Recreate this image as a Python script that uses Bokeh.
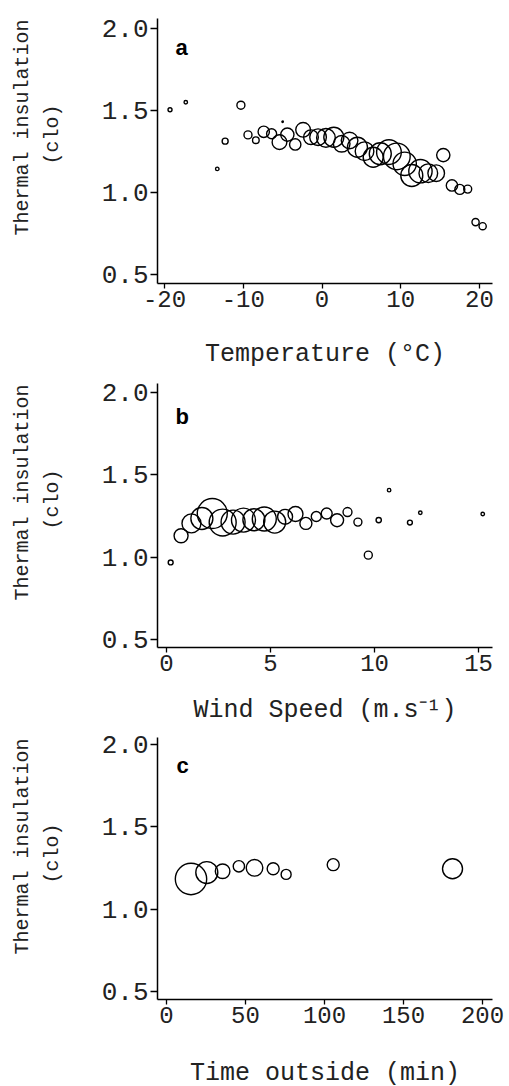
import math
from bokeh.plotting import figure
from bokeh.layouts import column, row
from bokeh.models import Range1d, Label, FixedTicker, NumeralTickFormatter
from bokeh.core.properties import value
from bokeh.embed import file_html
from bokeh.resources import INLINE

# ---------------- data ----------------
# panel a: temperature (deg C) vs clo; n = relative number of observations (bubble area)
temp_x = [-19.3, -17.3, -13.3, -12.3, -10.3, -9.4, -8.4, -7.4, -6.4, -5.4, -4.4, -5.0, -3.4,
          -2.4, -1.4, -0.5, 0.5, 1.5, 2.5, 3.5, 4.5, 5.4, 6.5, 7.4, 8.5, 9.5, 10.5, 11.4,
          12.5, 13.5, 14.5, 15.4, 16.5, 17.5, 18.5, 19.5, 20.4]
temp_clo = [1.503, 1.549, 1.143, 1.312, 1.531, 1.350, 1.318, 1.369, 1.357, 1.306, 1.352, 1.43,
            1.292, 1.381, 1.336, 1.336, 1.332, 1.336, 1.296, 1.316, 1.275, 1.251, 1.214, 1.235,
            1.245, 1.219, 1.174, 1.103, 1.129, 1.117, 1.117, 1.227, 1.042, 1.018, 1.020, 0.819,
            0.794]
temp_n = [4, 3, 3, 9, 16, 16, 11, 32, 25, 54, 44, 0.5, 32, 54, 54, 69, 87, 100, 69, 69, 100,
          87, 100, 121, 152, 178, 136, 121, 136, 87, 69, 44, 32, 25, 16, 13, 13]

# panel b: wind speed (m/s) vs clo
wind_x = [0.2, 0.7, 1.2, 1.7, 2.2, 2.7, 3.2, 3.7, 4.2, 4.7, 5.2, 5.7, 6.2, 6.7, 7.2, 7.7,
          8.2, 8.7, 9.2, 9.7, 10.2, 10.7, 11.7, 12.2, 15.2]
wind_clo = [0.968, 1.13, 1.205, 1.235, 1.265, 1.21, 1.213, 1.225, 1.227, 1.232, 1.213, 1.245,
            1.262, 1.205, 1.247, 1.265, 1.224, 1.274, 1.213, 1.012, 1.225, 1.407, 1.21, 1.27,
            1.262]
wind_n = [6, 49, 90, 121, 225, 182, 144, 144, 121, 144, 121, 56, 56, 36, 25, 30, 42, 20, 16,
          16, 7, 3, 6, 3, 3]

# panel c: time outside (min) vs clo
time_x = [15.5, 25.5, 35.5, 45.8, 55.7, 67.5, 75.7, 105.5, 181]
time_clo = [1.183, 1.222, 1.23, 1.26, 1.251, 1.245, 1.211, 1.27, 1.245]
time_n = [246, 121, 53, 32, 69, 36, 25, 36, 100]

y_title = ["Thermal insulation", "(clo)"]

TXT = "#222222"
MONO = "Liberation Mono"
FRAME_W = 335
LAB_W = 80


def ylabel_fig(frame_h):
    # the frame of this helper plot is aligned with the frame of the panel beside it
    f = figure(frame_width=LAB_W, frame_height=frame_h, min_border=0,
               x_range=Range1d(0, LAB_W), y_range=Range1d(frame_h, 0),
               x_axis_type=None, y_axis_type=None,
               output_backend="svg", toolbar_location=None,
               background_fill_color="white", border_fill_color="white")
    f.outline_line_color = None
    f.text(x=[22, 52], y=[109, 116], text=y_title,
           angle=math.pi / 2, text_align="center", text_baseline="middle",
           text_font=value(MONO), text_font_size="20px", text_color=TXT)
    return f


def panel(x, y, n, xr, yr, xticks, xlabel, letter, letter_xy, frame_h, top, bottom,
          xlabel_standoff):
    p = figure(frame_width=FRAME_W, frame_height=frame_h,
               min_border_left=157 - LAB_W, min_border_right=17,
               min_border_top=top, min_border_bottom=bottom,
               x_range=Range1d(*xr), y_range=Range1d(*yr),
               output_backend="svg", toolbar_location=None,
               background_fill_color="white", border_fill_color="white")
    p.outline_line_color = None
    p.grid.visible = False
    sizes = [2.0 * math.sqrt(v) for v in n]
    p.scatter(x, y, size=sizes, marker="circle", fill_color=None,
              line_color="black", line_width=1.4)

    for ax in (p.xaxis, p.yaxis):
        ax.axis_line_color = "black"
        ax.axis_line_width = 1.5
        ax.major_tick_line_color = "black"
        ax.major_tick_line_width = 1.3
        ax.major_tick_in = 0
        ax.minor_tick_line_color = None
        ax.major_label_text_font = MONO
        ax.major_label_text_color = TXT
    p.xaxis.major_tick_out = 5
    p.yaxis.major_tick_out = 7
    p.xaxis.ticker = FixedTicker(ticks=xticks)
    p.yaxis.ticker = FixedTicker(ticks=[0.5, 1.0, 1.5, 2.0])
    p.xaxis.formatter = NumeralTickFormatter(format="0")
    p.yaxis.formatter = NumeralTickFormatter(format="0.0")
    p.xaxis.major_label_text_font_size = "24px"
    p.yaxis.major_label_text_font_size = "26px"
    p.xaxis.major_label_standoff = 2
    p.yaxis.major_label_standoff = 2

    p.xaxis.axis_label = xlabel
    p.xaxis.axis_label_text_font = MONO
    p.xaxis.axis_label_text_font_size = "25px"
    p.xaxis.axis_label_text_font_style = "normal"
    p.xaxis.axis_label_text_color = TXT
    p.xaxis.axis_label_standoff = xlabel_standoff

    p.add_layout(Label(x=letter_xy[0], y=letter_xy[1], text=letter,
                       text_font="Liberation Sans", text_font_style="bold",
                       text_font_size="22px", text_color="black",
                       text_align="left", text_baseline="alphabetic"))
    lab = ylabel_fig(frame_h)
    return row(lab, p, spacing=0)


pa = panel(temp_x, temp_clo, temp_n, (-20.89, 21.65), (0.445, 2.059), [-20, -10, 0, 10, 20],
           "Temperature (°C)", "a", (-18.6, 1.88), 265, 18, 90, 30)
pb = panel(wind_x, wind_clo, wind_n, (-0.433, 15.67), (0.451, 2.055), [0, 5, 10, 15],
           "Wind Speed (m.s⁻¹)", "b", (0.43, 1.855), 264, 10, 80, 22)
pc = panel(time_x, time_clo, time_n, (-5.7, 206.3), (0.451, 2.0425), [0, 50, 100, 150, 200],
           "Time outside (min)", "c", (6.3, 1.87), 262, 10, 87, 33)

layout = column(pa, pb, pc, spacing=0)
open("out.html", "w").write(file_html(layout, INLINE))
